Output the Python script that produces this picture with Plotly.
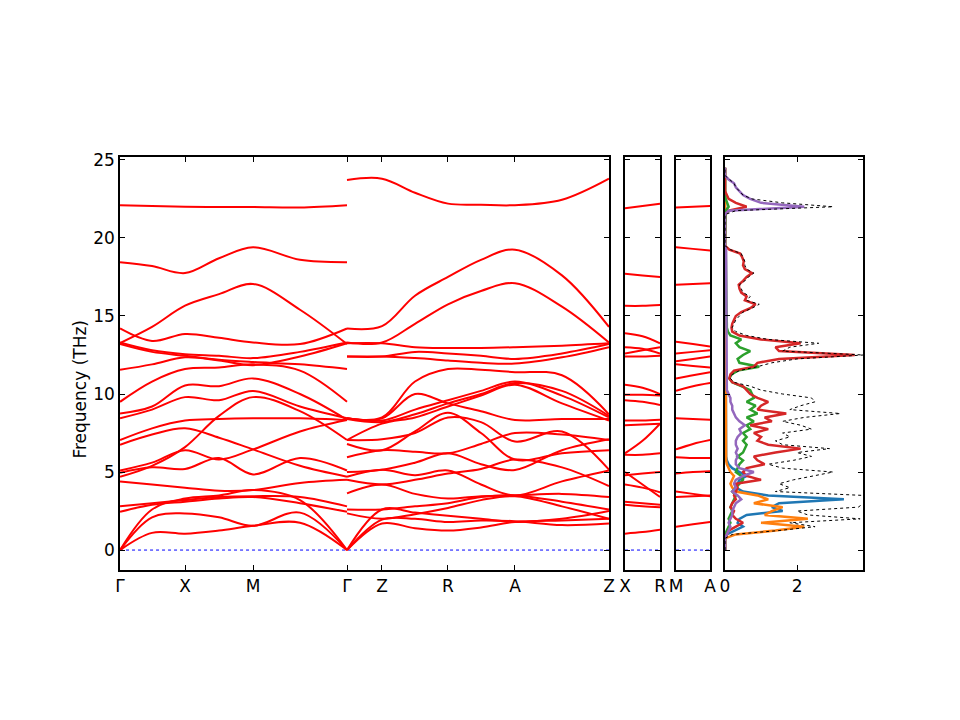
import numpy as np
import plotly.graph_objects as go

# band path: distances along path (same units as the x-axis) and labels
k_gxmg = [0, 32, 65, 99, 133, 180, 227]
k_gzraz = [227, 262, 295, 328, 361, 395, 442, 489]
k_short = [0, 0.5, 1]
path_ticks = [0, 65, 133, 227, 262, 328, 395, 489]
path_labels = ['Γ', 'X', 'M', 'Γ', 'Z', 'R', 'A', 'Z']

# frequencies (THz), one row per branch
bands_gxmg = [
	[22.10, 22.05, 22.00, 21.98, 21.98, 21.95, 22.10],
	[18.45, 18.20, 17.75, 18.70, 19.40, 18.60, 18.45],
	[13.27, 14.30, 15.66, 16.40, 17.05, 15.40, 13.20],
	[14.20, 13.40, 13.85, 13.60, 13.30, 13.20, 14.20],
	[13.30, 12.80, 12.55, 12.45, 12.30, 12.70, 13.30],
	[13.20, 12.70, 12.45, 12.20, 12.05, 11.90, 11.60],
	[11.55, 11.90, 12.35, 12.15, 11.85, 12.40, 13.25],
	[9.50, 10.80, 11.60, 11.70, 11.90, 11.50, 9.50],
	[8.75, 9.20, 10.55, 10.50, 11.00, 10.00, 8.35],
	[8.45, 9.00, 9.80, 9.60, 10.20, 9.20, 8.45],
	[7.05, 7.80, 8.30, 8.40, 8.44, 8.44, 8.33],
	[6.75, 7.40, 7.80, 7.20, 6.45, 5.40, 4.70],
	[5.10, 5.60, 6.40, 5.80, 6.45, 7.60, 8.33],
	[4.95, 5.30, 5.20, 5.90, 4.85, 5.90, 5.10],
	[4.70, 5.40, 6.60, 8.60, 9.80, 8.90, 7.05],
	[4.40, 4.20, 4.00, 3.80, 3.85, 4.30, 4.50],
	[2.80, 3.00, 3.20, 3.40, 3.45, 3.40, 2.80],
	[2.45, 2.90, 3.10, 3.30, 3.40, 3.00, 2.45],
	[0.00, 2.60, 3.30, 3.50, 3.85, 3.20, 0.00],
	[0.00, 2.10, 2.35, 2.10, 1.55, 2.40, 0.00],
	[0.00, 1.10, 1.05, 1.25, 1.55, 1.75, 0.00],
]
bands_gzraz = [
	[23.72, 23.80, 22.90, 22.20, 22.13, 22.10, 22.45, 23.80],
	[14.20, 14.35, 16.30, 17.50, 18.60, 19.25, 17.60, 14.30],
	[13.30, 13.30, 14.50, 15.75, 16.60, 17.10, 15.60, 13.30],
	[13.25, 13.25, 13.00, 12.95, 12.95, 13.00, 13.10, 13.25],
	[12.40, 12.40, 12.70, 12.60, 12.45, 12.25, 12.60, 13.20],
	[12.40, 12.40, 12.30, 12.15, 12.00, 11.95, 12.35, 13.00],
	[8.45, 8.50, 10.80, 11.60, 11.55, 11.40, 11.20, 8.70],
	[8.44, 8.44, 10.00, 9.40, 8.90, 8.33, 8.40, 8.40],
	[8.44, 8.30, 9.00, 9.60, 10.20, 10.80, 9.90, 8.50],
	[8.40, 8.20, 8.70, 9.40, 10.00, 10.70, 10.20, 8.60],
	[7.05, 8.10, 8.50, 9.20, 9.90, 10.60, 9.40, 8.30],
	[7.05, 7.10, 7.50, 8.50, 8.20, 6.95, 7.60, 5.15],
	[6.80, 6.40, 7.60, 8.80, 7.50, 5.80, 6.20, 6.40],
	[5.95, 6.40, 6.30, 6.20, 6.80, 7.50, 7.40, 7.05],
	[5.00, 5.15, 5.60, 6.20, 5.50, 5.13, 6.40, 7.10],
	[4.70, 5.15, 4.80, 5.10, 4.20, 3.50, 4.40, 5.10],
	[4.50, 4.20, 4.50, 4.90, 5.20, 5.80, 5.30, 4.10],
	[3.63, 4.20, 3.60, 3.30, 3.45, 3.50, 3.60, 3.40],
	[2.60, 2.60, 2.80, 3.00, 3.40, 3.50, 3.10, 2.60],
	[2.35, 2.00, 2.30, 2.70, 3.20, 3.45, 2.80, 2.00],
	[0.00, 2.60, 2.40, 2.20, 2.00, 1.80, 2.00, 2.50],
	[0.00, 1.95, 2.00, 1.80, 1.90, 1.85, 1.60, 1.70],
	[0.00, 1.70, 1.40, 1.25, 1.45, 1.80, 1.90, 2.00],
]
bands_xr = [
	[21.90, 22.05, 22.20], [17.70, 17.60, 17.50], [15.65, 15.65, 15.70],
	[13.90, 13.70, 13.25], [13.00, 12.90, 12.60], [12.60, 12.80, 13.00],
	[12.40, 12.40, 12.45], [10.60, 10.40, 10.00], [9.95, 9.95, 9.90],
	[9.60, 9.50, 9.30], [8.30, 8.30, 8.35], [8.00, 8.05, 8.10],
	[6.20, 7.00, 8.10], [6.10, 6.10, 6.20], [5.00, 4.20, 3.40],
	[4.80, 4.90, 5.00], [4.20, 4.00, 3.70], [3.10, 3.00, 2.90],
	[2.90, 2.80, 2.75], [1.05, 1.15, 1.30],
]
bands_ma = [
	[21.95, 22.00, 22.05], [19.40, 19.30, 19.20], [17.00, 17.05, 17.10],
	[13.35, 13.20, 13.05], [12.60, 12.70, 12.80], [12.10, 12.25, 12.40],
	[11.90, 11.80, 11.70], [11.00, 11.20, 11.40], [10.20, 10.50, 10.70],
	[8.44, 8.40, 8.35], [6.45, 6.80, 7.05], [5.95, 5.90, 5.90],
	[4.90, 5.00, 5.05], [3.75, 3.60, 3.45], [3.40, 3.45, 3.50],
	[1.50, 1.65, 1.80],
]

# density of states on a 0.25 THz grid
dos_freq = np.arange(99) * 0.25
dos_total = [
	0, 0, 0, 0, 0.2, 1.5, 2.5, 1.8, 3.75, 2.3,
	2.0, 3.7, 3.85, 3.9, 3.85, 1.4, 1.8, 1.5, 1.9, 2.5,
	3.0, 1.6, 1.2, 1.9, 2.4, 2.0, 2.9, 1.6, 1.4, 1.8,
	1.6, 2.4, 2.1, 1.6, 2.2, 3.2, 1.8, 2.1, 2.5, 2.4,
	1.6, 1.0, 0.7, 0.25, 0.15, 0.2, 0.4, 0.9, 1.3, 2.0,
	3.85, 1.6, 1.8, 2.6, 1.2, 0.6, 0.3, 0.2, 0.25, 0.3,
	0.4, 0.5, 0.75, 0.95, 0.6, 0.7, 0.5, 0.45, 0.4, 0.55,
	0.65, 0.8, 0.6, 0.55, 0.55, 0.5, 0.45, 0.15, 0, 0,
	0, 0, 0, 0, 0, 0, 0, 0.3, 3.0, 1.6,
	0.75, 0.5, 0.4, 0.3, 0.25, 0.12, 0, 0, 0,
]
dos_blue = [
	0, 0, 0, 0, 0.05, 0.3, 0.5, 0.35, 0.4, 0.6,
	1.6, 1.3, 1.5, 3.3, 1.2, 0.5, 0.3, 0.35, 0.4, 0.6,
	0.4, 0.2, 0.1, 0.05, 0.03, 0.03, 0.03, 0.03, 0.03, 0.03,
	0.02, 0.02, 0.02, 0.02, 0.02, 0.02, 0.02, 0.02, 0.02, 0.02,
	0.02, 0.02, 0.02, 0.02, 0.02, 0.02, 0.02, 0.02, 0.02, 0.02,
	0.02, 0.02, 0.02, 0.02, 0.02, 0.02, 0.02, 0.02, 0.02, 0.02,
	0.02, 0.02, 0.02, 0.02, 0.02, 0.02, 0.02, 0.02, 0.02, 0.02,
	0.02, 0.02, 0.02, 0.02, 0.02, 0.02, 0.02, 0.01, 0, 0,
	0, 0, 0, 0, 0, 0, 0, 0, 0, 0,
	0, 0, 0, 0, 0, 0, 0, 0, 0,
]
dos_orange = [
	0, 0, 0, 0, 0.3, 1.4, 2.2, 1.0, 2.3, 1.1,
	1.3, 1.6, 0.8, 1.2, 0.9, 0.3, 0.2, 0.15, 0.2, 0.25,
	0.15, 0.1, 0.05, 0.03, 0.03, 0.03, 0.03, 0.03, 0.03, 0.03,
	0.03, 0.03, 0.03, 0.03, 0.03, 0.03, 0.03, 0.03, 0.03, 0.03,
	0.03, 0.03, 0.03, 0.03, 0.03, 0.03, 0.03, 0.03, 0.03, 0.03,
	0.03, 0.03, 0.03, 0.03, 0.03, 0.03, 0.03, 0.03, 0.03, 0.03,
	0.03, 0.03, 0.03, 0.03, 0.03, 0.03, 0.03, 0.03, 0.03, 0.03,
	0.03, 0.03, 0.03, 0.03, 0.03, 0.03, 0.03, 0.01, 0, 0,
	0, 0, 0, 0, 0, 0, 0, 0, 0, 0,
	0, 0, 0, 0, 0, 0, 0, 0, 0,
]
dos_green = [
	0, 0, 0, 0, 0, 0.05, 0.1, 0.15, 0.1, 0.15,
	0.2, 0.15, 0.2, 0.25, 0.3, 0.2, 0.3, 0.4, 0.5, 0.45,
	0.3, 0.35, 0.4, 0.5, 0.35, 0.5, 0.55, 0.6, 0.5, 0.6,
	0.5, 0.7, 0.6, 0.8, 0.6, 0.9, 0.7, 0.85, 0.6, 0.8,
	0.75, 0.7, 0.45, 0.2, 0.12, 0.18, 0.35, 0.95, 0.4, 0.35,
	0.5, 0.7, 0.4, 0.3, 0.45, 0.15, 0.08, 0.05, 0.05, 0.04,
	0.04, 0.04, 0.04, 0.04, 0.04, 0.04, 0.04, 0.04, 0.04, 0.04,
	0.04, 0.04, 0.04, 0.04, 0.04, 0.04, 0.04, 0.02, 0, 0,
	0, 0, 0, 0, 0, 0, 0, 0.02, 0.1, 0.05,
	0.02, 0, 0, 0, 0, 0, 0, 0, 0,
]
dos_red = [
	0, 0, 0, 0, 0.05, 0.1, 0.3, 0.5, 0.3, 0.2,
	0.25, 0.15, 0.2, 0.3, 0.25, 0.3, 0.35, 0.3, 1.0, 0.6,
	0.5, 0.6, 1.1, 0.9, 0.8, 1.4, 2.1, 1.2, 0.9, 1.0,
	0.8, 1.2, 0.7, 1.3, 1.1, 1.7, 0.9, 1.0, 1.2, 0.9,
	0.7, 0.6, 0.5, 0.2, 0.12, 0.15, 0.25, 0.8, 0.9, 1.5,
	3.6, 1.5, 1.4, 2.1, 1.0, 0.4, 0.2, 0.18, 0.2, 0.25,
	0.3, 0.45, 0.7, 0.85, 0.55, 0.6, 0.45, 0.4, 0.38, 0.5,
	0.6, 0.75, 0.55, 0.5, 0.52, 0.48, 0.42, 0.12, 0, 0,
	0, 0, 0, 0, 0, 0, 0, 0.1, 0.6, 0.3,
	0.1, 0.05, 0, 0, 0, 0, 0, 0, 0,
]
dos_purple = [
	0, 0, 0, 0, 0.05, 0.1, 0.15, 0.1, 0.15, 0.2,
	0.2, 0.25, 0.3, 0.45, 0.35, 0.2, 0.3, 0.25, 0.3, 0.5,
	0.8, 0.4, 0.3, 0.3, 0.35, 0.3, 0.35, 0.3, 0.3, 0.35,
	0.45, 0.4, 0.55, 0.4, 0.3, 0.25, 0.2, 0.2, 0.15, 0.15,
	0.1, 0.05, 0.05, 0.05, 0.05, 0.05, 0.05, 0.05, 0.05, 0.05,
	0.05, 0.05, 0.05, 0.05, 0.05, 0.05, 0.05, 0.05, 0.05, 0.05,
	0.05, 0.05, 0.05, 0.05, 0.05, 0.05, 0.05, 0.05, 0.05, 0.05,
	0.05, 0.05, 0.05, 0.05, 0.05, 0.05, 0.05, 0.03, 0, 0,
	0, 0, 0, 0, 0, 0, 0, 0.1, 2.2, 1.0,
	0.7, 0.5, 0.4, 0.3, 0.25, 0.1, 0, 0, 0,
]

FONT = 'DejaVu Sans, Liberation Sans, sans-serif'
BAND_COLOR = '#ff0000'
y_range = [-1.28, 25.19]
y_dom = [0.2194, 0.7931]

fig = go.Figure()


def add_bands(kpts, bands, xa, ya):
	for row in bands:
		fig.add_trace(go.Scatter(
			x=kpts, y=row, mode='lines', line=dict(color=BAND_COLOR, width=2, shape='spline'),
			xaxis=xa, yaxis=ya, hoverinfo='skip'))


def add_zero(x0, x1, xa, ya):
	fig.add_trace(go.Scatter(
		x=[x0, x1], y=[0, 0], mode='lines', line=dict(color='blue', width=1, dash='dot'),
		xaxis=xa, yaxis=ya, hoverinfo='skip'))


add_zero(0, 489, 'x', 'y')
add_bands(k_gxmg, bands_gxmg, 'x', 'y')
add_bands(k_gzraz, bands_gzraz, 'x', 'y')
add_zero(0, 1, 'x2', 'y2')
add_bands(k_short, bands_xr, 'x2', 'y2')
add_zero(0, 1, 'x3', 'y3')
add_bands(k_short, bands_ma, 'x3', 'y3')

# projected DOS
for vals, col in [(dos_blue, '#1f77b4'), (dos_orange, '#ff7f0e'), (dos_green, '#2ca02c'),
				  (dos_red, '#d62728'), (dos_purple, '#9467bd')]:
	fig.add_trace(go.Scatter(x=vals, y=dos_freq, mode='lines', line=dict(color=col, width=2.5),
							 xaxis='x4', yaxis='y4', hoverinfo='skip'))
fig.add_trace(go.Scatter(x=dos_total, y=dos_freq, mode='lines', line=dict(color='black', width=1, dash='dot'),
						 xaxis='x4', yaxis='y4', hoverinfo='skip'))

ax_common = dict(showline=True, linecolor='black', linewidth=1.5, mirror='ticks', ticks='inside',
				 ticklen=5, tickwidth=1.2, tickcolor='black', showgrid=False, zeroline=False,
				 automargin=False, tickfont=dict(size=17, color='black', family=FONT))
y_common = dict(ax_common, range=y_range, domain=y_dom, tickvals=[0, 5, 10, 15, 20, 25])

fig.update_layout(
	width=960, height=720,
	margin=dict(l=0, r=0, t=0, b=0),
	paper_bgcolor='white', plot_bgcolor='white',
	showlegend=False,
	font=dict(family=FONT, color='black'),
	xaxis=dict(ax_common, domain=[0.1167, 0.6260], range=[0, 489], anchor='y',
			   tickvals=path_ticks, ticktext=path_labels),
	yaxis=dict(y_common, anchor='x', showticklabels=True),
	xaxis2=dict(ax_common, domain=[0.6427, 0.6792], range=[0, 1], anchor='y2',
				tickvals=[0, 1], ticktext=['X', 'R']),
	yaxis2=dict(y_common, anchor='x2', showticklabels=False),
	xaxis3=dict(ax_common, domain=[0.6958, 0.7313], range=[0, 1], anchor='y3',
				tickvals=[0, 1], ticktext=['M', 'A']),
	yaxis3=dict(y_common, anchor='x3', showticklabels=False),
	xaxis4=dict(ax_common, domain=[0.7469, 0.8906], range=[0, 3.83], anchor='y4',
				tickvals=[0, 2], ticktext=['0', '2']),
	yaxis4=dict(y_common, anchor='x4', showticklabels=False),
	annotations=[dict(text='Frequency (THz)', x=0.0625, y=0.47, xref='paper', yref='paper',
					  textangle=-90, showarrow=False, font=dict(size=17, family=FONT, color='black'))],
)

fig.write_html('out.html')
